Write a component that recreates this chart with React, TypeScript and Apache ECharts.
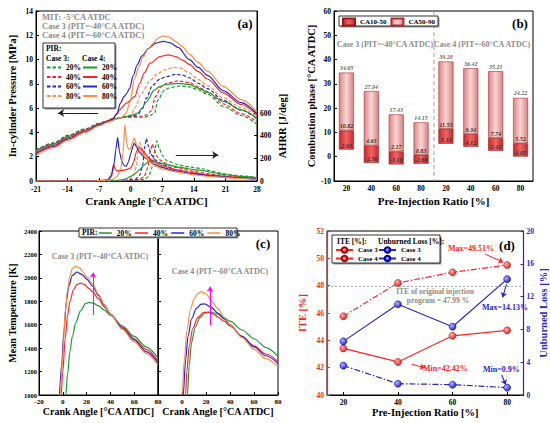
import { useEffect, useRef } from 'react';
import * as echarts from 'echarts';

const FONT = 'Liberation Serif';
const GREEN = '#1f9a2e';
const RED = '#ff2424';
const BLUE = '#2626cc';
const ORANGE = '#ff8c40';
const GRAY = '#8c8c8c';

// ---------- (a) in-cylinder pressure [MPa] vs crank angle ----------
const pC3_20 = [[-21,2.55],[-17,3.15],[-14,3.75],[-10,4.3],[-7,4.75],[-5,5.0],[-3,5.15],[-1,5.25],[1,5.25],[3,5.25],[4,5.35],[5.3,5.6],[6,6.65],[7.5,7.5],[9,7.72],[11,7.83],[13,7.75],[15,7.5],[17,7.15],[20.5,6.15],[24.5,5.4],[28,4.65]];
const pC3_40 = [[-21,2.52],[-17,3.12],[-14,3.72],[-10,4.27],[-7,4.74],[-5,4.98],[-3,5.15],[-1,5.28],[1,5.3],[2.5,5.35],[3.5,5.45],[4.5,5.75],[5.5,6.95],[6.7,7.75],[8,8.05],[10.5,8.24],[13,8.1],[15,7.75],[17,7.35],[20.5,6.35],[24.5,5.55],[28,4.85]];
const pC3_60 = [[-21,2.5],[-17,3.1],[-14,3.7],[-10,4.25],[-7,4.72],[-5,4.97],[-3,5.15],[-1,5.3],[0.5,5.35],[1.5,5.45],[2.7,6.0],[3.4,6.8],[4.9,7.9],[6.5,8.4],[7.9,8.6],[10,8.78],[11.5,8.72],[13,8.5],[15,8.05],[17,7.6],[20.5,6.65],[24.5,5.85],[28,5.1]];
const pC3_80 = [[-21,2.45],[-17,3.05],[-14,3.65],[-10,4.2],[-7,4.7],[-5,4.95],[-3,5.15],[-1,5.3],[0,5.45],[0.9,6.0],[2.4,7.2],[4.3,8.3],[6,8.85],[7.5,9.15],[9.5,9.35],[11,9.3],[13,8.9],[15,8.35],[17,7.85],[20.5,6.85],[24.5,6.05],[28,5.3]];
const pC4_20 = [[-21,2.5],[-17,3.05],[-14,3.65],[-10,4.2],[-7,4.7],[-5,4.95],[-3,5.15],[-1,5.3],[0,5.4],[1.6,5.6],[2.5,6.0],[3.4,6.5],[5.3,7.5],[6.5,7.8],[7.9,7.96],[10.5,8.04],[13,7.95],[15,7.65],[17,7.3],[20.5,6.55],[24.5,5.85],[28,5.15]];
const pC4_40 = [[-21,2.35],[-17,2.95],[-14,3.55],[-10,4.15],[-7,4.65],[-5,4.95],[-4,5.15],[-3,5.5],[-2.5,5.85],[-1,6.4],[0.9,6.95],[2,8.05],[3,8.9],[4.3,9.7],[6.5,10.25],[8.3,10.38],[10,10.25],[11.5,9.95],[13,9.6],[15,9.0],[17,8.4],[20.5,7.25],[24.5,6.3],[28,5.45]];
const pC4_60 = [[-21,2.25],[-17,2.85],[-14,3.45],[-10,4.05],[-7,4.6],[-5,4.9],[-4,5.1],[-3,5.6],[-2.3,6.4],[-1.5,6.95],[-0.9,7.2],[-0.3,7.6],[0.6,8.7],[1.4,9.55],[2.5,10.3],[3.9,10.9],[5.5,11.35],[7.2,11.5],[8.7,11.4],[10.5,11.0],[13,10.0],[15,9.35],[17,8.7],[20.5,7.45],[24.5,6.45],[28,5.55]];
const pC4_80 = [[-21,2.1],[-17,2.75],[-14,3.35],[-10,4.0],[-7,4.55],[-5,4.85],[-3,5.1],[-2,5.25],[-1,5.6],[-0.2,6.5],[0.9,8.45],[1.8,9.4],[2.7,10.2],[3.8,10.85],[4.9,11.3],[6,11.75],[7.2,11.95],[8.5,11.85],[10,11.5],[11.5,11.05],[13,10.45],[15,9.75],[17,9.05],[20.5,7.8],[24.5,6.7],[28,5.7]];

// ---------- (a) AHRR [J/deg] ----------
const hC3_20 = [[-21,0],[-2,0],[1,5],[3,15],[4,40],[4.8,130],[5.3,270],[5.8,355],[6.3,290],[7,225],[8,180],[10,150],[12,130],[14,118],[16,108],[18,85],[21,62],[24.5,45],[28,32]];
const hC3_40 = [[-21,0],[-3,0],[0,5],[2,15],[3,40],[3.8,120],[4.3,250],[4.8,325],[5.2,280],[5.8,220],[6.5,185],[8,150],[10,120],[14,85],[17,65],[21,46],[24.5,33],[28,24]];
const hC3_60 = [[-21,0],[-4,0],[-1,5],[1,15],[2,50],[2.7,150],[3.1,300],[3.5,375],[3.9,310],[4.5,235],[5.5,185],[7,145],[10,100],[14,70],[17,54],[21,38],[24.5,27],[28,19]];
const hC3_80 = [[-21,0],[-5,0],[-2,5],[0,20],[0.8,60],[1.3,150],[1.7,280],[2.0,340],[2.4,300],[3,240],[4,190],[5,160],[6,135],[8,105],[10,85],[14,60],[17,46],[21,33],[24.5,24],[28,16]];
const hC4_20 = [[-21,0],[-8,0],[-4,3],[-2,10],[-1,20],[0,40],[1,65],[2,100],[3,140],[4,175],[4.8,185],[6,165],[7,155],[9,135],[11,120],[14,100],[16,92],[18,75],[21,55],[24.5,40],[28,30]];
const hC4_40 = [[-21,0],[-8,0],[-6,5],[-5,12],[-4.2,40],[-3.8,150],[-3.4,100],[-3,90],[-2,92],[-1,100],[0,115],[0.6,160],[1.2,250],[1.7,300],[2.3,285],[3,250],[4,205],[5,170],[7,135],[10,100],[14,72],[17,55],[21,40],[24.5,30],[28,22]];
const hC4_60 = [[-21,0],[-8,0],[-6,5],[-5,15],[-4.3,50],[-3.7,150],[-3.3,280],[-2.9,385],[-2.5,260],[-2,180],[-1.5,135],[-1,130],[-0.5,170],[0,240],[0.5,310],[0.8,335],[1.3,300],[2,250],[3,210],[4,180],[5,150],[7,120],[10,88],[14,62],[17,48],[21,35],[24.5,25],[28,18]];
const hC4_80 = [[-21,0],[-8,0],[-6,5],[-4,15],[-3,40],[-2.2,110],[-1.7,250],[-1.3,500],[-0.9,330],[-0.5,280],[0,290],[0.4,340],[0.8,380],[1.2,330],[1.8,290],[2.5,250],[3.5,200],[4.5,160],[5.5,130],[7,105],[10,80],[14,55],[17,42],[21,30],[24.5,22],[28,15]];
const ahrrTicks = [0, 200, 400, 600];

// ---------- (b) combustion phase [°CA ATDC] ----------
const phaseCategories = ['20', '40', '60', '80', '20', '40', '60', '80'];
const ca10 = [2.93, -2.56, -3.16, -2.88, 5.33, 4.12, 2.42, 0.05];
const ca50 = [10.82, 4.63, 2.17, 0.83, 11.53, 9.34, 7.74, 5.52];
const ca90 = [34.65, 27.04, 17.43, 14.15, 39.2, 36.42, 35.21, 24.22];

// ---------- (c) mean temperature [K] ----------
const tC3_20 = [[1.5,850],[2.5,1000],[4,1180],[6,1370],[8,1500],[11,1620],[15,1720],[19,1780],[22,1790],[26,1782],[30,1760],[35,1725],[40,1680],[50,1590],[60,1500],[70,1410],[80,1315]];
const tC3_40 = [[-2.5,850],[-1.5,1000],[0,1200],[2,1480],[4,1680],[6,1800],[9,1900],[12,1945],[15,1955],[18,1945],[22,1910],[25,1880],[30,1820],[35,1750],[40,1690],[50,1580],[60,1480],[70,1390],[80,1290]];
const tC3_60 = [[-4,850],[-3,1000],[-1,1250],[1,1550],[3,1800],[5,1930],[8,2020],[12,2050],[16,2030],[20,1990],[25,1930],[30,1850],[35,1765],[40,1690],[50,1570],[60,1470],[70,1370],[80,1275]];
const tC3_80 = [[-3.2,850],[-2.2,1000],[-1,1170],[0,1350],[2,1700],[4,1900],[6,2020],[8,2080],[11,2100],[14,2085],[17,2050],[20,2010],[25,1950],[30,1860],[35,1770],[40,1690],[50,1560],[60,1455],[70,1355],[80,1255]];
const tC4_20 = [[3.5,850],[4.5,1000],[6,1250],[8,1450],[11,1580],[15,1660],[19,1700],[23,1706],[27,1700],[30,1690],[35,1660],[40,1630],[50,1555],[60,1480],[70,1405],[80,1330]];
const tC4_40 = [[2,850],[3,1000],[4,1200],[6,1420],[9,1570],[13,1660],[18,1705],[22,1708],[26,1692],[30,1665],[35,1630],[40,1590],[50,1500],[60,1420],[70,1350],[80,1285]];
const tC4_60 = [[0,850],[1,1000],[3,1300],[5,1500],[8,1650],[12,1740],[16,1775],[19,1778],[24,1750],[30,1700],[35,1650],[40,1600],[50,1500],[60,1410],[70,1335],[80,1270]];
const tC4_80 = [[-1,850],[0,1000],[2,1300],[4,1550],[7,1730],[10,1820],[13,1865],[16,1882],[20,1862],[25,1800],[30,1735],[35,1665],[40,1600],[50,1490],[60,1390],[70,1310],[80,1240]];

// ---------- (d) ITE and unburned loss [%] ----------
const pirLevels = [20, 40, 60, 80];
const iteCase3 = [45.76, 48.2, 48.98, 49.51];
const iteCase4 = [43.41, 42.42, 44.33, 44.73];
const ulCase3 = [3.58, 1.38, 1.26, 0.9];
const ulCase4 = [6.54, 11.06, 8.33, 14.13];
const originalIte = 47.99;

const DASH = [3.5, 2];
const DASHDOT = [6, 2, 1.5, 2];

const tickLabel = (size = 7.5, color = '#000', margin = 3) => ({
  fontFamily: FONT, fontWeight: 'bold' as const, fontSize: size, color, margin,
});
const nameStyle = (size = 10.5, color = '#000') => ({
  fontFamily: FONT, fontWeight: 'bold' as const, fontSize: size, color,
});
const axLine = (color = '#000', width = 1) => ({ show: true, onZero: false, lineStyle: { color, width } });

const line = (name: string, data: number[][], color: string, dashed: boolean, xi: number, yi: number, smooth = 0.3, extra: any = {}) => ({
  type: 'line', name, data, xAxisIndex: xi, yAxisIndex: yi, symbol: 'none',
  smooth, smoothMonotone: 'x',
  lineStyle: { color, width: 1.2, type: dashed ? DASH : 'solid' },
  itemStyle: { color }, z: 2, ...extra,
});

const arrowLine = (color: string, pairs: number[][][], size = 5) => ({
  silent: true, animation: false, symbolSize: size,
  label: { show: false },
  lineStyle: { color, width: 1.1, type: 'solid' },
  data: pairs.map(([a, b]) => [
    { coord: a, symbol: 'none' },
    { coord: b, symbol: 'arrow' },
  ]),
});

const txt = (x: number, y: number, text: string, opts: any = {}, extra: any = {}) => ({
  type: 'text', x, y, z: 10, ...extra,
  style: { text, fontFamily: FONT, fontWeight: 'bold', fontSize: 8, fill: '#000', align: 'left', verticalAlign: 'middle', ...opts },
});
const box = (x: number, y: number, w: number, h: number) => [
  { type: 'rect', z: 3, z2: 0, shape: { x: x + 1.5, y: y + 1.5, width: w, height: h }, style: { fill: '#9a9a9a' } },
  { type: 'rect', z: 3, z2: 1, shape: { x, y, width: w, height: h }, style: { fill: '#fff', stroke: '#000', lineWidth: 0.8 } },
];

const ball = (light: string, dark: string) =>
  new echarts.graphic.RadialGradient(0.35, 0.35, 0.75, [
    { offset: 0, color: light },
    { offset: 1, color: dark },
  ]);

function buildOption() {
  const pairs = (ys: number[]) => pirLevels.map((x, i) => [x, ys[i]]);
  const legendText = { fontFamily: FONT, fontWeight: 'bold' as const, fontSize: 7.5, color: '#000', lineHeight: 9 };
  const noSymbol = { opacity: 0, borderWidth: 0 };

  const darkGrad = new echarts.graphic.LinearGradient(0, 0, 1, 0, [
    { offset: 0, color: '#c22a2e' }, { offset: 0.5, color: '#f26464' }, { offset: 1, color: '#c22a2e' },
  ]);
  const lightGrad = new echarts.graphic.LinearGradient(0, 0, 1, 0, [
    { offset: 0, color: '#d98686' }, { offset: 0.5, color: '#fbd4d4' }, { offset: 1, color: '#d98080' },
  ]);
  const barLabel = {
    show: true, fontFamily: FONT, fontWeight: 'bold' as const, fontStyle: 'italic' as const,
    fontSize: 6, color: '#333', distance: 1,
  };

  const frame = { show: true, borderColor: '#000', borderWidth: 1, backgroundColor: 'transparent' };
  const plain = (v: number) => String(v);

  return {
    animation: false,
    backgroundColor: '#fff',
    grid: [
      { left: 36, top: 11, width: 221, height: 170, ...frame },
      { left: 334, top: 11, width: 199, height: 170, ...frame },
      { left: 39, top: 231, width: 119, height: 164, ...frame },
      { left: 158, top: 231, width: 120, height: 164, ...frame },
      { left: 327, top: 231, width: 196.5, height: 164, ...frame },
    ],
    xAxis: [
      {
        type: 'value', gridIndex: 0, min: -21, max: 28, interval: 7,
        axisLine: axLine(), axisTick: { inside: true, length: 3 },
        axisLabel: tickLabel(7.5, '#000', 4), splitLine: { show: false },
        name: 'Crank Angle [°CA ATDC]', nameLocation: 'middle', nameGap: 14, nameTextStyle: nameStyle(11),
      },
      {
        type: 'category', gridIndex: 1, data: phaseCategories,
        axisLine: axLine(), axisTick: { inside: true, length: 3, alignWithLabel: true },
        axisLabel: tickLabel(), splitLine: { show: false },
        name: 'Pre-Injection Ratio [%]', nameLocation: 'middle', nameGap: 14, nameTextStyle: nameStyle(11),
      },
      {
        type: 'value', gridIndex: 2, min: -20, max: 80, interval: 20,
        axisLine: axLine(), axisTick: { inside: true, length: 3 },
        axisLabel: tickLabel(7), splitLine: { show: false },
        name: 'Crank Angle [°CA ATDC]', nameLocation: 'middle', nameGap: 11, nameTextStyle: nameStyle(10),
      },
      {
        type: 'value', gridIndex: 3, min: -20, max: 80, interval: 20,
        axisLine: axLine(), axisTick: { inside: true, length: 3 },
        axisLabel: { ...tickLabel(7), formatter: (v: number) => (v === -20 ? '' : String(v)) },
        splitLine: { show: false },
        name: 'Crank Angle [°CA ATDC]', nameLocation: 'middle', nameGap: 11, nameTextStyle: nameStyle(10),
      },
      {
        type: 'value', gridIndex: 4, min: 14, max: 86,
        axisLine: axLine(),
        axisTick: { inside: true, length: 3, customValues: pirLevels },
        axisLabel: { ...tickLabel(), customValues: pirLevels }, splitLine: { show: false },
        name: 'Pre-Injection Ratio [%]', nameLocation: 'middle', nameGap: 11, nameTextStyle: nameStyle(10.5),
      },
    ],
    yAxis: [
      {
        type: 'value', gridIndex: 0, min: 0, max: 14, interval: 2,
        axisLine: axLine(), axisTick: { show: true, inside: true, length: 3 },
        axisLabel: tickLabel(), splitLine: { show: false },
        name: 'In-cylinder Pressure [MPa]', nameLocation: 'middle', nameGap: 18, nameTextStyle: nameStyle(10.5),
      },
      {
        type: 'value', gridIndex: 0, position: 'right', min: 0, max: 1500,
        axisLine: axLine(),
        axisTick: { show: true, inside: true, length: 3, customValues: ahrrTicks },
        axisLabel: { ...tickLabel(), customValues: ahrrTicks }, splitLine: { show: false },
      },
      {
        type: 'value', gridIndex: 1, min: -10, max: 60, interval: 10,
        axisLine: axLine(), axisTick: { show: true, inside: true, length: 3 },
        axisLabel: tickLabel(), splitLine: { show: false },
        name: 'Combustion phase [°CA ATDC]', nameLocation: 'middle', nameGap: 17, nameTextStyle: nameStyle(10.5),
      },
      {
        type: 'value', gridIndex: 2, min: 1000, max: 2400, interval: 200,
        axisLine: axLine(), axisTick: { show: true, inside: true, length: 3 },
        axisLabel: { ...tickLabel(6.5), margin: 2, formatter: plain }, splitLine: { show: false },
        name: 'Mean Temperature [K]', nameLocation: 'middle', nameGap: 22, nameTextStyle: nameStyle(10),
      },
      {
        type: 'value', gridIndex: 3, min: 1000, max: 2400, interval: 200,
        axisLine: axLine(), axisTick: { show: true, inside: true, length: 3 },
        axisLabel: { show: false }, splitLine: { show: false },
      },
      {
        type: 'value', gridIndex: 4, min: 40, max: 52, interval: 2,
        axisLine: axLine(RED, 1.2),
        axisTick: { show: true, inside: true, length: 3, lineStyle: { color: RED } },
        axisLabel: tickLabel(7.5, RED), splitLine: { show: false },
        name: 'ITE [%]', nameLocation: 'middle', nameGap: 19, nameTextStyle: nameStyle(10.5, RED),
      },
      {
        type: 'value', gridIndex: 4, position: 'right', min: 0, max: 20, interval: 4,
        axisLine: axLine(BLUE, 1.2),
        axisTick: { show: true, inside: true, length: 3, lineStyle: { color: BLUE } },
        axisLabel: tickLabel(7.5, BLUE), splitLine: { show: false },
        name: 'Unburned Loss [%]', nameLocation: 'middle', nameGap: 11, nameTextStyle: nameStyle(10.5, BLUE),
      },
    ],
    legend: [
      {
        data: ['C3 20%', 'C3 40%', 'C3 60%', 'C3 80%'], orient: 'vertical', left: 46, top: 63,
        itemWidth: 14, itemHeight: 8, itemGap: 0.5, padding: 0, selectedMode: false,
        itemStyle: noSymbol, textStyle: legendText, formatter: (n: string) => n.slice(3),
      },
      {
        data: ['C4 20%', 'C4 40%', 'C4 60%', 'C4 80%'], orient: 'vertical', left: 82, top: 63,
        itemWidth: 14, itemHeight: 8, itemGap: 0.5, padding: 0, selectedMode: false,
        itemStyle: noSymbol, textStyle: legendText, formatter: (n: string) => n.slice(3),
      },
      {
        data: ['CA10-50', 'CA50-90'], left: 342, top: 17.5, itemWidth: 12, itemHeight: 7, itemGap: 4,
        padding: 0, selectedMode: false, textStyle: { ...legendText, fontSize: 7 }, icon: 'rect',
      },
      {
        data: ['20%', '40%', '60%', '80%'], left: 98, top: 228.5, itemWidth: 13, itemHeight: 7, itemGap: 2.5,
        padding: 0, selectedMode: false, itemStyle: noSymbol,
        lineStyle: { width: 1.5 }, textStyle: legendText,
      },
      {
        data: ['ITE Case 3', 'ITE Case 4'], orient: 'vertical', left: 335, top: 246,
        itemWidth: 17, itemHeight: 7, itemGap: 0.5, padding: 0, selectedMode: false,
        textStyle: { ...legendText, fontSize: 7, lineHeight: 8 }, formatter: (n: string) => n.replace('ITE ', ''),
      },
      {
        data: ['UL Case 3', 'UL Case 4'], orient: 'vertical', left: 378, top: 246,
        itemWidth: 17, itemHeight: 7, itemGap: 0.5, padding: 0, selectedMode: false,
        textStyle: { ...legendText, fontSize: 7, lineHeight: 8 }, formatter: (n: string) => n.replace('UL ', ''),
      },
    ],
    graphic: [
      // (a)
      txt(42, 17, 'MIT: -5°CA ATDC', { fill: GRAY, fontSize: 8.5 }),
      txt(42, 26, 'Case 3 (PIT=-40°CA ATDC)', { fill: GRAY, fontSize: 8.5 }),
      txt(42, 35, 'Case 4 (PIT=-60°CA ATDC)', { fill: GRAY, fontSize: 8.5 }),
      txt(245, 23, '(a)', { fontSize: 13, align: 'center' }),
      ...box(43, 43, 72, 65),
      txt(46, 48, 'PIR:', { fontSize: 7.5 }),
      txt(46, 58, 'Case 3:', { fontSize: 7.5 }),
      txt(82, 58, 'Case 4:', { fontSize: 7.5 }),
      txt(282, 126, 'AHRR [J/deg]', { fontSize: 10.5, align: 'center' }, { rotation: Math.PI / 2 }),
      // (b)
      ...box(339, 16, 99, 10),
      txt(385, 44, 'Case 3 (PIT=-40°CA ATDC)', { fill: GRAY, fontSize: 8, align: 'center' }),
      txt(482, 44, 'Case 4 (PIT=-60°CA ATDC)', { fill: GRAY, fontSize: 8, align: 'center' }),
      txt(520, 23, '(b)', { fontSize: 13, align: 'center' }),
      { type: 'line', z: 1, shape: { x1: 434, y1: 11, x2: 434, y2: 181 }, style: { stroke: '#a0a0a0', lineWidth: 1, lineDash: [4, 3] } },
      // (c)
      ...box(79, 228, 158, 9),
      txt(82, 232.5, 'PIR:', { fontSize: 7.5 }),
      txt(100, 256, 'Case 3 (PIT=-40°CA ATDC)', { fill: GRAY, fontSize: 8, align: 'center' }),
      txt(220, 271, 'Case 4 (PIT=-60°CA ATDC)', { fill: GRAY, fontSize: 8, align: 'center' }),
      txt(263, 243, '(c)', { fontSize: 13, align: 'center' }),
      // (d)
      ...box(332, 235, 108, 28),
      txt(337, 241.5, 'ITE [%]:', { fontSize: 7.5 }),
      txt(378, 241.5, 'Unburned Loss [%]:', { fontSize: 7.5 }),
      txt(507, 245, '(d)', { fontSize: 13, align: 'center' }),
      txt(448, 248, 'Max=49.51%', { fill: RED, fontSize: 8 }),
      txt(423, 368, 'Min=42.42%', { fill: RED, fontSize: 8 }),
      txt(482, 307, 'Max=14.13%', { fill: BLUE, fontSize: 8 }),
      txt(483, 369, 'Min=0.9%', { fill: BLUE, fontSize: 8 }),
      txt(435, 291, 'ITE of original injection', { fill: GRAY, fontSize: 7.5, align: 'center' }),
      txt(438, 300, `program = ${originalIte} %`, { fill: GRAY, fontSize: 7.5, align: 'center' }),
    ],
    series: [
      // (a) pressure
      line('C3 20%', pC3_20, GREEN, true, 0, 0),
      line('C3 40%', pC3_40, RED, true, 0, 0),
      line('C3 60%', pC3_60, BLUE, true, 0, 0),
      line('C3 80%', pC3_80, ORANGE, true, 0, 0),
      line('C4 20%', pC4_20, GREEN, false, 0, 0),
      line('C4 40%', pC4_40, RED, false, 0, 0),
      line('C4 60%', pC4_60, BLUE, false, 0, 0),
      line('C4 80%', pC4_80, ORANGE, false, 0, 0, 0.3, {
        markLine: arrowLine('#222', [[[-7.2, 5.6], [-16.1, 5.6]]], 6),
      }),
      // (a) AHRR
      line('AHRR C3 20%', hC3_20, GREEN, true, 0, 1, 0.15),
      line('AHRR C3 40%', hC3_40, RED, true, 0, 1, 0.15),
      line('AHRR C3 60%', hC3_60, BLUE, true, 0, 1, 0.15),
      line('AHRR C3 80%', hC3_80, ORANGE, true, 0, 1, 0.15),
      line('AHRR C4 20%', hC4_20, GREEN, false, 0, 1, 0.15),
      line('AHRR C4 40%', hC4_40, RED, false, 0, 1, 0.15),
      line('AHRR C4 60%', hC4_60, BLUE, false, 0, 1, 0.15),
      line('AHRR C4 80%', hC4_80, ORANGE, false, 0, 1, 0.15, {
        markLine: arrowLine('#222', [[[10, 229], [19.4, 229]]], 6),
      }),
      // (b) combustion phase
      {
        type: 'bar', name: 'base', xAxisIndex: 1, yAxisIndex: 2, stack: 'phase', stackStrategy: 'all',
        data: ca10, barWidth: 15, silent: true, itemStyle: { color: 'rgba(0,0,0,0)' },
      },
      {
        type: 'bar', name: 'CA10-50', xAxisIndex: 1, yAxisIndex: 2, stack: 'phase', stackStrategy: 'all',
        data: ca50.map((v, i) => +(v - ca10[i]).toFixed(2)), barWidth: 15,
        itemStyle: { color: darkGrad, borderColor: '#9e1a1a', borderWidth: 0.6 },
        label: { ...barLabel, position: 'insideBottom', formatter: (p: any) => ca10[p.dataIndex].toFixed(2) },
      },
      {
        type: 'bar', name: 'CA50-90', xAxisIndex: 1, yAxisIndex: 2, stack: 'phase', stackStrategy: 'all',
        data: ca90.map((v, i) => +(v - ca50[i]).toFixed(2)), barWidth: 15,
        itemStyle: { color: lightGrad, borderColor: '#a83030', borderWidth: 0.6 },
        label: { ...barLabel, position: 'insideBottom', formatter: (p: any) => ca50[p.dataIndex].toFixed(2) },
      },
      {
        type: 'scatter', name: 'CA90', xAxisIndex: 1, yAxisIndex: 2, data: ca90, symbolSize: 1, silent: true,
        itemStyle: { color: 'rgba(0,0,0,0)' },
        label: { ...barLabel, position: 'top', formatter: (p: any) => ca90[p.dataIndex].toFixed(2) },
      },
      // (c) temperature
      line('20%', tC3_20, GREEN, false, 2, 3, 0.3, {
        markLine: arrowLine('#ff00ff', [[[25.4, 1683], [25.4, 2045]]], 5),
      }),
      line('40%', tC3_40, RED, false, 2, 3),
      line('60%', tC3_60, BLUE, false, 2, 3),
      line('80%', tC3_80, ORANGE, false, 2, 3),
      line('20%', tC4_20, GREEN, false, 3, 4, 0.3, {
        markLine: arrowLine('#ff00ff', [[[23.3, 1598], [23.3, 1925]]], 5),
      }),
      line('40%', tC4_40, RED, false, 3, 4),
      line('60%', tC4_60, BLUE, false, 3, 4),
      line('80%', tC4_80, ORANGE, false, 3, 4),
      // (d)
      {
        type: 'line', name: 'ITE Case 3', xAxisIndex: 4, yAxisIndex: 5, data: pairs(iteCase3),
        symbol: 'circle', symbolSize: 7, z: 3,
        lineStyle: { color: RED, width: 1.2, type: DASHDOT },
        itemStyle: { color: ball('#ffb4b4', '#e01818'), borderColor: '#b00000', borderWidth: 0.5 },
        markLine: {
          silent: true, animation: false, symbolSize: 5, label: { show: false },
          data: [
            [
              { coord: [14, originalIte], symbol: 'none', lineStyle: { color: '#8a8a8a', width: 0.8, type: [2, 2] } },
              { coord: [86, originalIte], symbol: 'none' },
            ],
            [
              { coord: [72, 50.3], symbol: 'none', lineStyle: { color: RED, width: 1, type: 'solid' } },
              { coord: [78.6, 49.72], symbol: 'arrow' },
            ],
          ],
        },
      },
      {
        type: 'line', name: 'ITE Case 4', xAxisIndex: 4, yAxisIndex: 5, data: pairs(iteCase4),
        symbol: 'circle', symbolSize: 7, z: 3,
        lineStyle: { color: RED, width: 1.2 },
        itemStyle: { color: ball('#ffb4b4', '#e01818'), borderColor: '#b00000', borderWidth: 0.5 },
        markLine: arrowLine(RED, [[[45, 42.25], [49.9, 42.0]]], 5),
      },
      {
        type: 'line', name: 'UL Case 3', xAxisIndex: 4, yAxisIndex: 6, data: pairs(ulCase3),
        symbol: 'circle', symbolSize: 7, z: 3,
        lineStyle: { color: BLUE, width: 1.2, type: DASHDOT },
        itemStyle: { color: ball('#b4b4ff', '#1818c8'), borderColor: '#0000a0', borderWidth: 0.5 },
        markLine: arrowLine(BLUE, [[[78, 2.44], [79.5, 1.25]]], 5),
      },
      {
        type: 'line', name: 'UL Case 4', xAxisIndex: 4, yAxisIndex: 6, data: pairs(ulCase4),
        symbol: 'circle', symbolSize: 7, z: 3,
        lineStyle: { color: BLUE, width: 1.2 },
        itemStyle: { color: ball('#b4b4ff', '#1818c8'), borderColor: '#0000a0', borderWidth: 0.5 },
        markLine: arrowLine(BLUE, [[[79.8, 13.5], [78.3, 11.9]]], 5),
      },
    ],
  };
}

export default function App() {
  const ref = useRef<HTMLDivElement>(null);
  useEffect(() => {
    if (!ref.current) return;
    const chart = echarts.init(ref.current, undefined, { renderer: 'svg' });
    chart.setOption(buildOption() as any);
    return () => chart.dispose();
  }, []);
  return (
    <div
      ref={ref}
      style={{ position: 'absolute', left: 0, top: 0, width: 550, height: 423, background: '#fff' }}
    />
  );
}
